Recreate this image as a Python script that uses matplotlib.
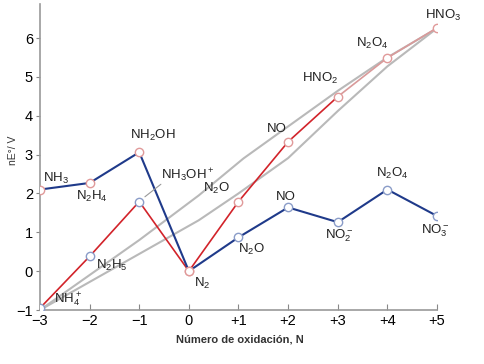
import matplotlib
matplotlib.use("Agg")
import matplotlib.pyplot as plt

plt.rcParams['font.family'] = ['Liberation Sans', 'DejaVu Sans']
plt.rcParams['mathtext.default'] = 'regular'

ox = [-3, -2, -1, 0, 1, 2, 3, 4, 5]
acid_vals = [-0.95, 0.38, 1.79, 0.0, 1.79, 3.33, 4.49, 5.49, 6.26]
basic_vals = [2.1, 2.27, 3.06, 0.0, 0.87, 1.64, 1.26, 2.1, 1.42]

acid_labels = [r'NH$_4^+$', r'N$_2$H$_5$', r'NH$_3$OH$^+$', r'N$_2$', r'N$_2$O',
               'NO', r'HNO$_2$', r'N$_2$O$_4$', r'HNO$_3$']
acid_label_xy = [(-2.44, -0.74), (-1.55, 0.15), (-0.02, 2.46), (0.26, -0.31),
                 (0.56, 2.13), (1.77, 3.67), (2.64, 4.95), (3.69, 5.85), (5.12, 6.59)]
basic_labels = [r'NH$_3$', r'N$_2$H$_4$', r'NH$_2$OH', None, r'N$_2$O', 'NO',
                r'NO$_2^-$', r'N$_2$O$_4$', r'NO$_3^-$']
basic_label_xy = [(-2.68, 2.38), (-1.95, 1.92), (-0.73, 3.49), None, (1.27, 0.56),
                  (1.96, 1.92), (3.04, 0.9), (4.09, 2.51), (4.96, 1.03)]

gray_upper_x = [-3, -1, 0.2, 1.1, 3.0, 4.0, 5]
gray_upper_y = [-1.0, 0.8, 1.95, 2.9, 4.64, 5.5, 6.25]
gray_lower_x = [-3, 0.2, 1.0, 2.0, 3.0, 4.0, 5]
gray_lower_y = [-1.0, 1.31, 2.0, 2.91, 4.12, 5.27, 6.25]

xtick_labels = ['\u22123', '\u22122', '\u22121', '0', '+1', '+2', '+3', '+4', '+5']
ytick_vals = [-1, 0, 1, 2, 3, 4, 5, 6]
ytick_labels = ['\u22121', '0', '1', '2', '3', '4', '5', '6']

# marker edge colours: 'b' = bluish, 'r' = pinkish
acid_marker_cols = ['b', 'b', 'b', 'r', 'r', 'r', 'r', 'r', 'r']
basic_marker_cols = ['r', 'r', 'r', 'r', 'b', 'b', 'b', 'b', 'b']

RED = '#d2232a'
BLUE = '#1f3a8a'
GRAY = '#b9b9b9'
MK = {'b': '#8a9cc8', 'r': '#e09a9a'}

fig = plt.figure(figsize=(4.85, 3.64), dpi=100)
ax = fig.add_axes([40/485, 1-310/364, (437-40)/485, (310-4)/364])

ax.plot(gray_upper_x, gray_upper_y, color=GRAY, lw=1.5, zorder=1)
ax.plot(gray_lower_x, gray_lower_y, color=GRAY, lw=1.5, zorder=1)

ax.plot(ox[:7], acid_vals[:7], color=RED, lw=1.2, zorder=2)
ax.plot(ox[6:], acid_vals[6:], color='#d99a9a', lw=1.2, zorder=2)
ax.plot(ox, basic_vals, color=BLUE, lw=1.5, zorder=2)

for x, y, c in zip(ox, acid_vals, acid_marker_cols):
    ax.plot([x], [y], 'o', ms=6, mfc='white', mec=MK[c], mew=1.0, zorder=4)
for x, y, c in zip(ox, basic_vals, basic_marker_cols):
    ax.plot([x], [y], 'o', ms=6, mfc='white', mec=MK[c], mew=1.0, zorder=4)

for lab, (tx, ty) in zip(acid_labels, acid_label_xy):
    ax.text(tx, ty, lab, ha='center', va='center', fontsize=9.5, color='#222222', zorder=5)
for lab, xy in zip(basic_labels, basic_label_xy):
    if lab is None:
        continue
    ax.text(xy[0], xy[1], lab, ha='center', va='center', fontsize=9.5, color='#222222', zorder=5)

# leader line for NH3OH+
ax.annotate('', xy=(ox[2] + 0.07, acid_vals[2] + 0.08), xytext=(-0.52, 2.28),
            arrowprops=dict(arrowstyle='-', color='#999999', lw=0.8))

ax.set_xlim(-3, 5)
ax.set_ylim(-1, 6.875)
ax.set_xticks(ox)
ax.set_xticklabels(xtick_labels, fontsize=10.5)
ax.set_yticks(ytick_vals)
ax.set_yticklabels(ytick_labels, fontsize=10.5)
ax.tick_params(axis='x', direction='in', length=4, color='#888888', pad=3)
ax.tick_params(axis='y', direction='out', length=3, color='#888888', pad=2)
for s in ['top', 'right']:
    ax.spines[s].set_visible(False)
for s in ['left', 'bottom']:
    ax.spines[s].set_color('#999999')
    ax.spines[s].set_linewidth(1.2)

fig.text(240/485, 1-340/364, 'Número de oxidación, N', ha='center', va='center',
         fontsize=8, fontweight='bold', color='#333333')
fig.text(13/485, 1-150/364, 'nE°/ V', ha='center', va='center', rotation=90,
         fontsize=7.5, color='#333333')

fig.savefig('out.png', dpi=100)
